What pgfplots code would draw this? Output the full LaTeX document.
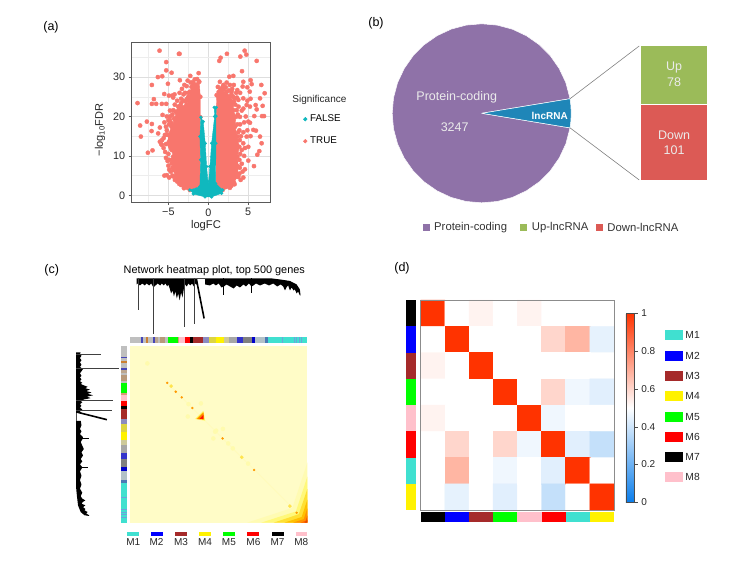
\documentclass[border=0pt]{standalone}
\usepackage{fontspec}
\setmainfont{Liberation Sans}
\usepackage{pgfplots}
\usepackage{pgfplotstable}
\pgfplotsset{compat=1.18}
\newcommand\fs[1]{\fontsize{#1}{#1}\selectfont}
\definecolor{teal1}{HTML}{10B8BE}
\definecolor{pink1}{HTML}{F8766D}
\definecolor{pur}{HTML}{8F72A8}
\definecolor{blu}{HTML}{1F86B8}
\definecolor{grn}{HTML}{9BBB59}
\definecolor{redd}{HTML}{DC5A55}
\definecolor{turq}{HTML}{40E0D0}
\definecolor{brwn}{HTML}{A52A2A}
\definecolor{pnk}{HTML}{FFC0CB}
\newcommand\rect[5]{\addplot[fill=#1,draw=none] coordinates {(#2,#4)(#3,#4)(#3,#5)(#2,#5)};}
\newcommand\bandT[3]{\addplot[fill=#1,draw=none] coordinates {(#2,-25.4)(#3,-25.4)(#3,-6.8)(#2,-6.8)};}
\newcommand\bandL[3]{\addplot[fill=#1,draw=none] coordinates {(-26,#2)(-7.6,#2)(-7.6,#3)(-26,#3)};}
\newcommand\bandlist{%
\band{gray!50}{0}{31}\band{blue!45!gray}{31}{36}\band{gray!50}{36}{44}\band{orange!60!gray}{44}{50}
\band{gray!50}{50}{64}\band{blue!45!gray}{64}{70}\band{brown!50!gray!70}{70}{78}\band{gray!50}{78}{84}
\band{brown!60!gray!80}{84}{100}\band{gray!50}{100}{106}\band{green}{106}{135}\band{brown!60!pnk}{135}{139}
\band{pnk}{139}{156}\band{red}{156}{170}\band{black}{170}{179}\band{brwn}{179}{207}\band{blue!30!gray!70}{207}{222}
\band{yellow!70!gray}{222}{243}\band{yellow}{243}{265}\band{yellow!35!gray!70}{265}{280}\band{gray!70}{280}{303}
\band{blue!60!gray}{303}{320}\band{gray}{320}{343}\band{blue!80!black}{343}{353}\band{cyan!20!gray!60}{353}{380}
\band{cyan!50!blue!70!gray}{380}{388}\band{turq}{388}{500}\band{cyan!60!blue!60}{428}{431}\band{cyan!60!blue!60}{462}{464}
\band{cyan!60!blue!60}{469}{471}\band{cyan!60!blue!60}{476}{478}\band{cyan!60!blue!60}{483}{485}}
\pgfplotstableread{
p d
19 0
190 0
190 7
185 5
180 8
175 5
170 7
165 5
160 8
156 6
152 10
148 19
144 14
140 22
136 15
132 20
128 13
124 18
120 12
116 15
112 10
108 6
105 8
100 5
95 7
90 5
85 7
78 5
72 7
66 9
60 5
54 7
47 5
41 7
35 5
28 7
22 5
19 6
}\massA
\pgfplotstableread{
p d
212 0
400 0
423 1
451 2.5
470 6
479 11
481 17
479 17
474 13
470 15
465 11
461 12
456 9
451 12
446 7
441 9
437 12
432 8
425 6
415 8
404 5
392 7
380 5
367 7
355 5
348 7
343 8
335 5
327 8
320 6
310 9
301 7
292 10
282 8
272 6
265 8
258 9
250 5
242 7
235 5
225 7
212 6
}\massB
\begin{document}
\begin{tikzpicture}[x=1pt,y=1pt]
\useasboundingbox (0,0) rectangle (755,562);
\node[font=\fs{12.5}] at (51,535) {(a)};
\node[font=\fs{12.5}] at (376,539) {(b)};
\node[font=\fs{12.5}] at (51.7,291.3) {(c)};
\node[font=\fs{12.5}] at (402,294) {(d)};
% ---------- panel a
\begin{axis}[at={(131.7pt,360pt)},anchor=south west,scale only axis,width=138.3pt,height=160pt,
 xmin=-9.6,xmax=7.74,ymin=-1.7,ymax=38.9,
 xtick={-5,0,5},xticklabels={−5,0,5},ytick={0,10,20,30},yticklabels={0,10,20,30},
 minor xtick={-7.5,-2.5,2.5},minor ytick={5,15,25,35},
 grid=both,major grid style={color=black!13,line width=.6pt},minor grid style={color=black!7,line width=.4pt},
 tick align=outside,major tick length=3pt,minor tick length=0pt,tick pos=left,
 tick style={color=black!65,line width=.6pt},axis line style={color=black!65,line width=.8pt},
 tick label style={font=\fs{10.8},color=black!85},
 xlabel={logFC},ylabel={−log\textsubscript{10}FDR},
 every axis x label/.style={at={(axis description cs:0.537,-0.146)},anchor=center,font=\fs{11.2},color=black!85},
 every axis y label/.style={at={(axis description cs:-0.229,0.45)},anchor=center,rotate=90,font=\fs{11},color=black!85},
 clip mode=individual,
 legend style={draw=none,fill=none,at={(axis description cs:1.24,0.545)},anchor=north west,font=\fs{9.8},
   row sep=13.7pt,inner sep=0pt,nodes={inner xsep=3pt,inner ysep=0pt}},
 legend cell align=left,
 legend image code/.code={\draw[#1] plot coordinates {(0pt,0pt)};}
]
\addplot[forget plot,fill=pink1,draw=pink1,mark=*,mark size=2.1pt,mark options={fill=pink1,draw=pink1}] coordinates {
(-2.3,1.35)(-3.05,1.8)(-3.64,2.9)(-4.18,3.9)(-4.31,6.4)(-4.6,8.1)(-4.39,9.8)(-4.6,11.5)(-5.02,13.2)(-5.02,15.3)(-4.6,17.4)(-4.18,19.1)(-4.1,21.2)(-3.77,22.5)(-2.72,23)(-2.38,24.2)(-2.3,26.3)(-1.88,28)(-1.13,28.8)(-1,25)(-1,19.8)(-1,2.2)};
\addplot[forget plot,fill=pink1,draw=pink1,mark=*,mark size=2.1pt,mark options={fill=pink1,draw=pink1}] coordinates {
(1.8,1.35)(2.72,1.9)(3.22,3.2)(3.64,4.7)(3.77,7.3)(3.64,9.8)(3.89,12.3)(3.64,14.9)(3.35,17.4)(3.47,19.9)(3.14,21.6)(3.22,23.8)(2.72,25)(2.3,26.3)(1.67,26.3)(1.05,25.4)(1,20)(.96,2.2)};
\addplot[forget plot,only marks,mark=*,mark size=2.1pt,color=pink1] coordinates {
(-6.11,36.7)(-3.68,35.9)(-3.6,35.9)(-5.27,33.8)(-5.27,31.7)(-4.6,31.1)(-6.32,30)(-5.77,30.2)(-2.26,30.3)(-1.21,31)(-3.56,29.2)(-5.06,28.3)(-7.07,28)(-2.59,29.1)(-5.52,25.7)(-6.82,24.4)(-8.87,23.4)(-7.07,23.2)(-6.53,23.2)(-5.82,23.2)(-5.27,23.2)(-5.73,20.4)(-4.94,25.3)(-4.52,25.3)(-4.23,25.6)(-3.1,25.6)(-2.72,27.7)(-1.92,28.7)(-1.55,28.1)(-1.17,28.9)(-7.7,18.7)(-8.54,17.7)(-7.07,18.1)(-8.45,14.9)(-7.11,16.3)(-7.57,10.8)(-6.99,11.4)(-6.07,17.2)(-6.28,15.7)(-6.07,13.6)(-5.82,12.8)(-5.44,15.3)(-5.31,17.4)(-4.81,19.1)(-4.39,21.6)(-4.5,5)(-4.9,4.5)(-5.5,5)(-5.2,5.1)(-4.9,6.5)(-5,7.5)(-5.1,8.7)(-5.3,9.5)(-5,10.5)(-5.4,11)(-5.6,12)(-5.8,14)(-5.2,16.5)(-5.5,18.5)(-5,19)(-4.8,20)(-4.5,20.5)(-4.8,21.5)(-4.2,23)(-3.9,24)(-3.4,24.5)(-3.1,24)(-2.9,26)(-3.3,27)(-2.5,26)(-2.1,27.5)(-2,25)(-2.7,24.4)(-4.4,24.8)(-3.6,26)(-3,28)(-5.9,13)(-5.6,14.5)(-5.3,13)(-4.8,12.5)(-4.9,9)(-4.7,6)(-5.2,20)(-4.6,18.3)
(-3.5,22.8)(-3.9,21)(-4.3,19.5)(-4.9,18)(-5.2,15.5)(-4.9,13.7)(-4.7,12)(-4.6,9)(-4.5,7)(-4.4,4.8)(-3.9,3.5)(-3.4,2.6)(-2.6,1.9)(-2.8,23.8)(-2.5,25)(-3.4,23.4)(-1.7,29.4)(-1.4,29.5)(-2.2,28.6)
(4.56,36.7)(4.77,35.7)(4.02,35.2)(2.34,35.9)(1.55,34.9)(1.38,34.1)(6.07,34.1)(4.23,31.5)(3.14,30.3)(2.64,30.1)(5.31,29.2)(6.65,28)(7.07,25.9)(6.49,24.6)(5.44,28.2)(4.9,27.4)(4.39,28.8)(4.31,27.6)(3.64,26.7)(2.72,28)(2.3,28.6)(1.46,28.8)(5.94,22.9)(6.82,22.7)(6.07,21.8)(5.77,20.1)(6.74,20.1)(6.99,20.1)(5.23,18.4)(5.65,16.6)(5.98,16.4)(6.49,14.9)(6.69,13.2)(6.4,11.2)(6.15,10.3)(5.73,7.4)(5.02,8.8)(4.6,6.6)(4.06,3.9)(3.77,4.7)(5.02,12.3)(4.39,13.2)(4.81,14.9)(5.02,18.7)(3.97,19.9)(3.56,21.6)(4.81,22.9)(5.23,22.5)(4.39,24.6)(3.77,24.2)(3.14,25)(2.93,26.3)(3.9,5.5)(4.2,8)(4.5,10)(4.2,11.5)(4.6,12)(4.1,15)(4.4,16)(3.9,16.5)(4,18)(4.5,18.5)(4.7,20)(4.2,21.5)(3.8,22.5)(4.4,22)(4.9,24)(3.6,24.8)(3.5,26)(3,27)(2.2,27.4)(1.8,27.5)(1.5,27)(1.9,28)(3.2,28)(4,26)(5.2,26.3)(5.3,24.5)(4.9,16.5)(5.3,15)(4.3,6)(4.4,4.5)
(3.6,5.5)(3.95,7)(3.9,9)(4,10.5)(3.95,14)(3.75,16)(3.65,18)(3.7,20.5)(3.4,23)(3.3,24.6)(2.9,25.6)(2.6,26.6)(1.9,26.9)(1.3,26.2)(1.2,27.5)(2.9,2.4)(3.3,2.8)};
\addplot[forget plot,fill=teal1,draw=teal1,mark=*,mark size=1.5pt,mark options={fill=teal1,draw=teal1}] coordinates {
(-2.3,1.35)(-1.05,2.2)(-.96,9)(-1.05,14.9)(-.92,19.8)(-.63,18.7)(-.38,13.2)(-.21,7.3)(0,2.6)(.21,7.3)(.42,13.2)(.8,20)(.75,22.3)(1,22.3)(.96,20.1)(.96,13.2)(.92,3)(1.8,1.35)(1.67,.5)(.42,-.4)(-.42,-.4)(-1.88,.34)};
\addlegendimage{only marks,mark=*,mark size=1.9pt,color=teal1}
\addlegendentry{FALSE}
\addlegendimage{only marks,mark=*,mark size=1.9pt,color=pink1}
\addlegendentry{TRUE}
\node[font=\fs{10},anchor=west,inner xsep=0pt,color=black!85] at (axis description cs:1.161,0.637) {Significance};
\end{axis}
% ---------- panel b
\begin{axis}[at={(374.3pt,341.3pt)},anchor=south west,x=89.5pt,y=89.5pt,hide axis,clip=false,
 xmin=-1.2,xmax=2.7,ymin=-1.2,ymax=1.2]
\addplot[fill=pur,draw=white,line width=.5pt] coordinates {(0,0)(.987,.163)(.94,.342)(.866,.5)(.766,.643)(.643,.766)(.5,.866)(.342,.94)(.174,.985)(0,1)(-.174,.985)(-.342,.94)(-.5,.866)(-.643,.766)(-.766,.643)(-.866,.5)(-.94,.342)(-.985,.174)(-1,0)(-.985,-.174)(-.94,-.342)(-.866,-.5)(-.766,-.643)(-.643,-.766)(-.5,-.866)(-.342,-.94)(-.174,-.985)(0,-1)(.174,-.985)(.342,-.94)(.5,-.866)(.643,-.766)(.766,-.643)(.866,-.5)(.94,-.342)(.987,-.163)(0,0)};
\addplot[fill=blu,draw=white,line width=.5pt] coordinates {(0,0)(.987,.163)(.996,.087)(1,0)(.996,-.087)(.987,-.163)(0,0)};
\addplot[color=black!50,line width=.6pt] coordinates {(.987,.163)(1.76,.752)};
\addplot[color=black!50,line width=.6pt] coordinates {(.987,-.163)(1.76,-.745)};
\rect{grn}{1.78}{2.52}{.107}{.752}
\rect{redd}{1.78}{2.52}{-.745}{.093}
\rect{pur}{-.661}{-.583}{-1.313}{-1.235}
\rect{grn}{.43}{.508}{-1.313}{-1.235}
\rect{redd}{1.275}{1.353}{-1.313}{-1.235}
\node[font=\fs{12.5},color=white!92!black] at (axis cs:-.279,.18) {Protein-coding};
\node[font=\fs{12.5},color=white!92!black] at (axis cs:-.302,-.156) {3247};
\node[font=\bfseries\fs{10},color=white] at (axis cs:.76,-.027) {lncRNA};
\node[font=\fs{12.5},color=white!92!black] at (axis cs:2.149,.511) {Up};
\node[font=\fs{12.5},color=white!92!black] at (axis cs:2.149,.348) {78};
\node[font=\fs{12.5},color=white!92!black] at (axis cs:2.149,-.243) {Down};
\node[font=\fs{12.5},color=white!92!black] at (axis cs:2.149,-.411) {101};
\node[font=\fs{11.3},anchor=west,color=black!80,inner xsep=0pt] at (axis cs:-.533,-1.274) {Protein-coding};
\node[font=\fs{11.3},anchor=west,color=black!80,inner xsep=0pt] at (axis cs:.559,-1.274) {Up-lncRNA};
\node[font=\fs{11.3},anchor=west,color=black!80,inner xsep=0pt] at (axis cs:1.403,-1.274) {Down-lncRNA};
\end{axis}
% ---------- panel c
\begin{axis}[at={(130pt,39.3pt)},anchor=south west,scale only axis,width=177.3pt,height=177pt,hide axis,clip=false,
 xmin=0,xmax=500,ymin=0,ymax=500,y dir=reverse]
\rect{yellow!22!white}{0}{500}{0}{500}
\addplot[color=yellow!27!white,line width=.7pt] coordinates {(100,100)(500,500)};
\addplot[fill=yellow!30!white,draw=none] coordinates {(330,500)(500,500)(500,330)(458,458)};
\addplot[fill=yellow!52!white,draw=none] coordinates {(370,500)(500,500)(500,370)(468,468)};
\addplot[fill=orange!30!yellow!80!white,draw=none] coordinates {(405,500)(500,500)(500,405)(476,476)};
\addplot[fill=orange!50!yellow,draw=none] coordinates {(435,500)(500,500)(500,435)(484,484)};
\addplot[fill=orange!85!yellow,draw=none] coordinates {(460,500)(500,500)(500,460)(490,490)};
\addplot[fill=orange!70!red,draw=none] coordinates {(480,500)(500,500)(500,480)(495,495)};
\addplot[fill=orange!60!red!90!black,draw=none] coordinates {(492,500)(500,500)(500,492)};
\addplot[only marks,mark=*,mark size=2pt,color=yellow!32!white] coordinates {(49,50)(165,165)(200,163)(163,200)(240,243)(235,262)(262,235)(277,276)(290,290)(333,333)(243,240)};
\addplot[only marks,mark=*,mark size=1.6pt,color=orange!30!yellow!70!white] coordinates {(116,114)(315,315)(451,453)};
\addplot[only marks,mark=*,mark size=1pt,color=orange!80!yellow] coordinates {(105,105)(129,130)(146,146)(176,176)(261,262)(350,351)(470,472)};
\addplot[fill=yellow!60!white,draw=none] coordinates {(207,184)(212,212)(184,207)};
\addplot[fill=orange!55!yellow,draw=none] coordinates {(207,187)(209,209)(187,207)};
\addplot[fill=orange,draw=none] coordinates {(207,190)(208,208)(190,207)};
\addplot[fill=red!85!orange,draw=none] coordinates {(207,196)(207,207)(196,207)};
\let\band\bandT
\bandlist
\let\band\bandL
\bandlist
% top dendrogram
\addplot[fill=black,draw=none] table[x=p,y expr=-190+\thisrow{d}*2.825] {\massA};
\addplot[fill=black,draw=none] table[x=p,y expr=-190+\thisrow{d}*2.825] {\massB};
\addplot[color=black!70,line width=.6pt] coordinates {(190,-190)(212,-190)};
\addplot[color=black!75,line width=.8pt] coordinates {(24,-190)(24,-100)};
\addplot[color=black!75,line width=.8pt] coordinates {(65,-190)(65,-32)};
\addplot[color=black!75,line width=.8pt] coordinates {(154,-190)(154,-54)};
\addplot[color=black!75,line width=.8pt] coordinates {(182,-190)(182,-60)};
\addplot[color=black,line width=1.6pt] coordinates {(188,-184)(209,-77)};
\addplot[color=black,line width=1pt] coordinates {(263,-190)(263,-142)};
\addplot[color=black,line width=1pt] coordinates {(343,-190)(343,-148)};
% left dendrogram
\addplot[fill=black,draw=none] table[x expr=-152+\thisrow{d}*2.17,y=p] {\massA};
\addplot[fill=black,draw=none] table[x expr=-152+\thisrow{d}*2.17,y=p] {\massB};
\addplot[color=black!70,line width=.6pt] coordinates {(-152,190)(-152,212)};
\addplot[color=black!75,line width=.8pt] coordinates {(-152,24)(-82.6,24)};
\addplot[color=black!75,line width=.8pt] coordinates {(-152,65)(-30.5,65)};
\addplot[color=black!75,line width=.8pt] coordinates {(-152,154)(-48,154)};
\addplot[color=black!75,line width=.8pt] coordinates {(-152,182)(-52,182)};
\addplot[color=black,line width=1.6pt] coordinates {(-148,188)(-65,209)};
\addplot[color=black,line width=1pt] coordinates {(-152,263)(-115,263)};
\addplot[color=black,line width=1pt] coordinates {(-152,343)(-119,343)};
% legend
\rect{turq}{-7.5}{26.3}{525.3}{536.6}
\rect{blue}{59}{92}{525.3}{536.6}
\rect{brwn}{127}{161}{525.3}{536.6}
\rect{yellow}{194.6}{228}{525.3}{536.6}
\rect{green}{263}{296}{525.3}{536.6}
\rect{red}{331}{365}{525.3}{536.6}
\rect{black}{400}{433}{525.3}{536.6}
\rect{pnk}{467}{500}{525.3}{536.6}
\node[font=\fs{10},color=black!85] at (axis cs:9.4,555.5) {M1};
\node[font=\fs{10},color=black!85] at (axis cs:75,555.5) {M2};
\node[font=\fs{10},color=black!85] at (axis cs:144,555.5) {M3};
\node[font=\fs{10},color=black!85] at (axis cs:211.5,555.5) {M4};
\node[font=\fs{10},color=black!85] at (axis cs:279,555.5) {M5};
\node[font=\fs{10},color=black!85] at (axis cs:348,555.5) {M6};
\node[font=\fs{10},color=black!85] at (axis cs:416,555.5) {M7};
\node[font=\fs{10},color=black!85] at (axis cs:483,555.5) {M8};
\node[font=\fs{10.9}] at (axis cs:237.7,-212) {Network heatmap plot, top 500 genes};
\end{axis}
% ---------- panel d
\begin{axis}[at={(420.7pt,52pt)},anchor=south west,scale only axis,width=193.3pt,height=210pt,clip=false,
 xmin=-.5,xmax=7.5,ymin=-.5,ymax=7.5,y dir=reverse,xtick=\empty,ytick=\empty,axis on top,
 axis line style={color=black!45,line width=.9pt},
 colormap={bwr}{rgb255(0cm)=(10,125,235);rgb255(1cm)=(255,255,255);rgb255(2cm)=(255,51,0)},
 point meta min=0,point meta max=1,colorbar,
 colorbar style={at={(1.062,.0367)},anchor=south west,scale only axis,width=8.3pt,height=189pt,
   ytick={0,.2,.4,.6,.8,1},yticklabels={0,0.2,0.4,0.6,0.8,1},
   tick label style={font=\fs{10},color=black!85},major tick length=3.5pt,tick align=outside,ytick pos=right,yticklabel pos=right,
   tick style={color=black!70},axis line style={color=black!70,line width=.7pt},y dir=normal}]
\addplot[matrix plot*,mesh/cols=8,point meta=explicit] table[meta=z] {
x y z
0 0 1
1 0 .5
2 0 .53
3 0 .5
4 0 .53
5 0 .5
6 0 .5
7 0 .5
0 1 .5
1 1 1
2 1 .5
3 1 .5
4 1 .5
5 1 .6
6 1 .68
7 1 .45
0 2 .53
1 2 .5
2 2 1
3 2 .5
4 2 .5
5 2 .5
6 2 .5
7 2 .5
0 3 .5
1 3 .5
2 3 .5
3 3 1
4 3 .5
5 3 .6
6 3 .47
7 3 .44
0 4 .53
1 4 .5
2 4 .5
3 4 .5
4 4 1
5 4 .47
6 4 .5
7 4 .5
0 5 .5
1 5 .6
2 5 .5
3 5 .6
4 5 .47
5 5 1
6 5 .44
7 5 .38
0 6 .5
1 6 .68
2 6 .5
3 6 .47
4 6 .5
5 6 .44
6 6 1
7 6 .5
0 7 .5
1 7 .45
2 7 .5
3 7 .44
4 7 .5
5 7 .38
6 7 .5
7 7 1
};
\rect{black}{-1.12}{-.707}{-.5}{.5}
\rect{blue}{-1.12}{-.707}{.5}{1.5}
\rect{brwn}{-1.12}{-.707}{1.5}{2.5}
\rect{green}{-1.12}{-.707}{2.5}{3.5}
\rect{pnk}{-1.12}{-.707}{3.5}{4.5}
\rect{red}{-1.12}{-.707}{4.5}{5.5}
\rect{turq}{-1.12}{-.707}{5.5}{6.5}
\rect{yellow}{-1.12}{-.707}{6.5}{7.5}
\rect{black}{-.5}{.5}{7.565}{7.97}
\rect{blue}{.5}{1.5}{7.565}{7.97}
\rect{brwn}{1.5}{2.5}{7.565}{7.97}
\rect{green}{2.5}{3.5}{7.565}{7.97}
\rect{pnk}{3.5}{4.5}{7.565}{7.97}
\rect{red}{4.5}{5.5}{7.565}{7.97}
\rect{turq}{5.5}{6.5}{7.565}{7.97}
\rect{yellow}{6.5}{7.5}{7.565}{7.97}
\rect{turq}{9.61}{10.34}{.655}{1.035}
\rect{blue}{9.61}{10.34}{1.43}{1.81}
\rect{brwn}{9.61}{10.34}{2.205}{2.585}
\rect{yellow}{9.61}{10.34}{2.967}{3.347}
\rect{green}{9.61}{10.34}{3.756}{4.136}
\rect{red}{9.61}{10.34}{4.53}{4.91}
\rect{black}{9.61}{10.34}{5.28}{5.66}
\rect{pnk}{9.61}{10.34}{6.05}{6.43}
\node[font=\fs{10.3},anchor=west,inner xsep=0pt,color=black!85] at (axis cs:10.45,.845) {M1};
\node[font=\fs{10.3},anchor=west,inner xsep=0pt,color=black!85] at (axis cs:10.45,1.62) {M2};
\node[font=\fs{10.3},anchor=west,inner xsep=0pt,color=black!85] at (axis cs:10.45,2.395) {M3};
\node[font=\fs{10.3},anchor=west,inner xsep=0pt,color=black!85] at (axis cs:10.45,3.157) {M4};
\node[font=\fs{10.3},anchor=west,inner xsep=0pt,color=black!85] at (axis cs:10.45,3.946) {M5};
\node[font=\fs{10.3},anchor=west,inner xsep=0pt,color=black!85] at (axis cs:10.45,4.72) {M6};
\node[font=\fs{10.3},anchor=west,inner xsep=0pt,color=black!85] at (axis cs:10.45,5.47) {M7};
\node[font=\fs{10.3},anchor=west,inner xsep=0pt,color=black!85] at (axis cs:10.45,6.24) {M8};
\end{axis}
\end{tikzpicture}
\end{document}
